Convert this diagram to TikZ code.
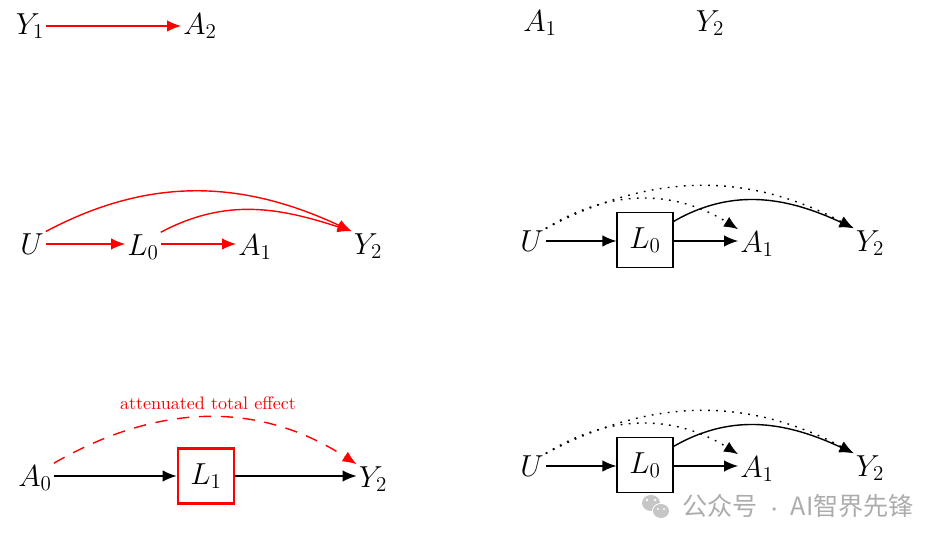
\documentclass[tikz,border=0pt]{standalone}
\usepackage{fontspec}
\newfontfamily\cjk{Noto Sans CJK SC}
\usetikzlibrary{arrows.meta}
\begin{document}
\begin{tikzpicture}[x=0.02cm,y=-0.02cm,
  v/.style={inner sep=1pt,font=\fontsize{18.5}{20}\selectfont},
  bx/.style={v,draw,line width=0.6pt,minimum width=1.12cm,minimum height=1.1cm},
  ar/.style={-{Latex[length=8pt,width=6.5pt]},line width=0.8pt},
  rar/.style={ar,red},
  dot/.style={ar,dash pattern=on 1pt off 3.6pt}]
\useasboundingbox (0,0) rectangle (947,543);
% panel 1
\node[v] (y1) at (30,26) {$Y_1$};
\node[v] (a2) at (200,26) {$A_2$};
\draw[rar] (y1) -- (a2);
% panel 2
\node[v] (a1t) at (540,23) {$A_1$};
\node[v] (y2t) at (710,23) {$Y_2$};
% panel 3
\node[v] (u3) at (32,244) {$U$};
\node[v] (l3) at (143,247) {$L_0$};
\node[v] (a3) at (255,247) {$A_1$};
\node[v] (y3) at (368,246) {$Y_2$};
\draw[rar] (u3.east) -- (u3.east -| l3.west);
\draw[rar] (l3.east |- u3.east) -- (u3.east -| a3.west);
\draw[rar] (u3.north east) to[out=28,in=155] (y3.north west);
\draw[rar] (l3.north east) to[out=28,in=162] (y3.north west);
% panel 4
\node[v] (u4) at (532,241) {$U$};
\node[bx] (l4) at (645,240) {$L_0$};
\node[v] (a4) at (757,244) {$A_1$};
\node[v] (y4) at (870,243) {$Y_2$};
\draw[ar] (u4.east) -- (u4.east -| l4.west);
\draw[ar] (l4.east |- u4.east) -- (u4.east -| a4.west);
\draw[ar] (l4.33) to[out=30,in=155] (y4.north west);
\draw[dot] (u4.north east) to[out=32,in=148] (a4.north west);
\draw[dot] (u4.north east) to[out=28,in=152] (y4.north west);
% panel 5
\node[v] (a0) at (35,478) {$A_0$};
\node[bx,draw=red,line width=1.5pt] (l1) at (206,476) {$L_1$};
\node[v] (y5) at (373,479) {$Y_2$};
\draw[ar] (a0.east |- l1.center) -- (l1.west);
\draw[ar] (l1.east) -- (l1.east -| y5.west);
\draw[rar,dash pattern=on 7pt off 5.5pt] (a0.north east) to[out=30,in=147] (y5.north west);
\node[red,font=\fontsize{10.3}{12}\selectfont] (lab) at (208,403) {attenuated total effect};
% panel 6
\node[v] (u6) at (532,466) {$U$};
\node[bx] (l6) at (645,465) {$L_0$};
\node[v] (a6) at (757,469) {$A_1$};
\node[v] (y6) at (870,468) {$Y_2$};
\draw[ar] (u6.east) -- (u6.east -| l6.west);
\draw[ar] (l6.east |- u6.east) -- (u6.east -| a6.west);
\draw[ar] (l6.33) to[out=30,in=155] (y6.north west);
\draw[dot] (u6.north east) to[out=32,in=148] (a6.north west);
\draw[dot] (u6.north east) to[out=28,in=152] (y6.north west);
% watermark
\fill[gray!45] (651,503) ellipse (9 and 8);
\fill[white] (661,511) ellipse (9 and 8);
\fill[gray!45] (661,511) ellipse (8 and 7);
\fill[white] (647,500) circle (1.3) (655,500) circle (1.3) (658,509) circle (1.1) (664,509) circle (1.1);
\node[gray!65,font=\cjk\fontsize{14.3}{16}\selectfont,anchor=west] (wm) at (676,506) {公众号\hspace{5pt}{\fontsize{9}{10}\selectfont·}\hspace{5pt}AI智界先锋};
\end{tikzpicture}
\end{document}
